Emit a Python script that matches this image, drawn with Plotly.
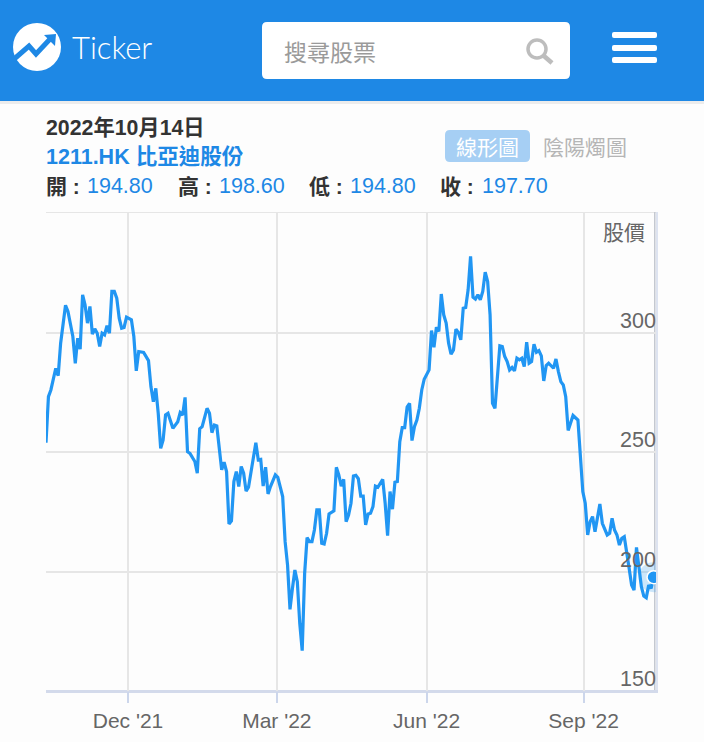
import plotly.graph_objects as go

W, H = 704, 742

# one entry per turning point, x is the trading day counted from 14 Oct 2021
trade_day = [0, 1, 2, 4, 5, 6, 8, 9, 11, 12, 13, 14, 15, 16, 17, 18, 19, 20, 21, 22, 23, 24, 25, 26, 27, 28, 29, 30,
             31, 32, 33, 35, 36, 37, 38, 40, 42, 43, 44, 45, 46, 47, 48, 49, 50, 52, 54, 55, 56, 57, 58, 59, 61, 62,
             63, 64, 66, 67, 68, 69, 70, 72, 73, 74, 75, 76, 77, 78, 79, 80, 81, 82, 83, 86, 87, 88, 89, 90, 91, 92,
             94, 95, 97, 98, 99, 100, 101, 102, 103, 104, 105, 106, 107, 108, 109, 110, 111, 112, 113, 114, 115, 116,
             118, 119, 120, 121, 122, 123, 124, 125, 126, 127, 128, 129, 130, 131, 132, 133, 134, 135, 136, 138, 139,
             140, 141, 142, 143, 144, 145, 146, 147, 148, 149, 150, 151, 152, 153, 154, 155, 157, 158, 159, 160, 161,
             162, 163, 164, 165, 166, 167, 168, 169, 170, 171, 172, 173, 174, 175, 176, 177, 178, 179, 180, 181, 182,
             183, 184, 185, 186, 187, 188, 189, 190, 191, 192, 193, 194, 195, 196, 197, 198, 199, 200, 201, 202, 203,
             204, 205, 206, 208, 209, 210, 211, 212, 213, 214, 215, 216, 218, 219, 220, 221, 222, 223, 224, 225, 227,
             228, 229, 230, 231, 232, 233, 234, 235, 236, 237, 238, 239, 240, 241, 242, 243, 244, 245, 246, 247, 248,
             249]
close = [254.1, 273.4, 276.2, 285.3, 282.2, 295.8, 311.7, 309.1, 298.6, 287.4, 297.9, 293.3, 316.1, 311.9, 304.2,
         311.2, 299.6, 301.8, 300.0, 294.4, 300.0, 299.3, 303.1, 300.0, 317.5, 317.5, 314.7, 306.3, 302.1, 302.4,
         306.7, 305.6, 298.6, 284.2, 292.3, 291.9, 288.5, 277.6, 271.3, 276.9, 266.4, 251.7, 255.2, 265.7, 266.4,
         260.1, 262.9, 266.7, 265.7, 273.1, 250.3, 249.6, 246.2, 241.3, 259.9, 260.8, 268.5, 266.4, 258.3, 261.5,
         261.1, 242.7, 245.9, 242.0, 220.0, 221.3, 237.8, 242.0, 235.7, 244.1, 241.3, 233.8, 235.4, 254.1, 246.9,
         247.1, 235.9, 243.8, 232.6, 235.7, 240.6, 239.6, 231.5, 212.6, 202.8, 184.2, 193.0, 200.7, 195.8, 178.3,
         166.9, 199.3, 214.3, 212.6, 212.6, 217.5, 225.9, 225.9, 211.9, 211.6, 216.1, 224.2, 225.5, 243.8, 240.6,
         235.9, 238.7, 221.0, 223.8, 228.7, 240.1, 240.4, 239.0, 231.7, 231.7, 219.6, 224.2, 224.5, 227.3, 235.9,
         235.4, 238.7, 228.7, 215.1, 233.6, 226.2, 237.5, 237.8, 254.5, 260.4, 260.4, 269.0, 270.6, 255.0, 260.8,
         263.6, 268.5, 276.2, 280.7, 284.6, 301.1, 294.1, 302.5, 300.7, 316.4, 307.7, 304.2, 295.8, 291.2, 293.0,
         301.7, 300.3, 297.2, 310.5, 310.8, 318.2, 332.2, 315.1, 314.3, 316.1, 314.0, 317.5, 325.6, 321.7, 307.7,
         270.6, 268.5, 282.5, 294.7, 294.4, 290.2, 288.1, 284.6, 285.6, 284.2, 289.5, 288.8, 289.5, 286.0, 296.2,
         287.4, 288.1, 295.4, 292.0, 292.7, 290.5, 280.0, 286.4, 287.4, 285.3, 289.2, 283.9, 279.7, 278.3, 273.4,
         259.2, 262.9, 265.5, 263.6, 248.3, 233.6, 228.7, 215.4, 221.0, 223.1, 216.8, 228.4, 220.3, 217.5, 215.4,
         216.1, 222.4, 217.5, 215.4, 211.2, 214.0, 214.7, 207.0, 201.4, 194.4, 192.3, 210.2, 202.8, 193.7, 189.8,
         189.1, 194.4, 193.0, 197.7]

x_tickvals = [33.6, 94.6, 156, 220.3]
x_ticktext = ["Dec '21", "Mar '22", "Jun '22", "Sep '22"]
y_tickvals = [150, 200, 250, 300]

BLUE = "#1e88e5"
LINE = "#2196f3"
TEXT_FONT = "Liberation Sans, Noto Sans CJK TC, sans-serif"
CJK_FONT = "Noto Sans CJK TC, sans-serif"


# page pixels -> paper fractions, the page chrome is placed by pixel
def px(x):
    return x / W


def py(y):
    return 1 - y / H


def rect(x0, y0, x1, y1, color):
    return dict(type="rect", xref="paper", yref="paper", x0=px(x0), x1=px(x1), y0=py(y0), y1=py(y1),
                fillcolor=color, line_width=0, layer="below")


def rounded(x0, y0, x1, y1, r, color):
    path = (f"M {px(x0 + r)} {py(y0)} L {px(x1 - r)} {py(y0)} Q {px(x1)} {py(y0)} {px(x1)} {py(y0 + r)} "
            f"L {px(x1)} {py(y1 - r)} Q {px(x1)} {py(y1)} {px(x1 - r)} {py(y1)} "
            f"L {px(x0 + r)} {py(y1)} Q {px(x0)} {py(y1)} {px(x0)} {py(y1 - r)} "
            f"L {px(x0)} {py(y0 + r)} Q {px(x0)} {py(y0)} {px(x0 + r)} {py(y0)} Z")
    return dict(type="path", xref="paper", yref="paper", path=path, fillcolor=color, line_width=0, layer="below")


def poly(points, color, width=0, fill=None):
    path = "M " + " L ".join(f"{px(a)} {py(b)}" for a, b in points)
    if fill:
        path += " Z"
    return dict(type="path", xref="paper", yref="paper", path=path, fillcolor=fill,
                line=dict(color=color, width=width), layer="above")


def label(x, y, text, size, color, anchor="left", font=TEXT_FONT, bold=False, weight=None):
    if bold:
        text = f"<b>{text}</b>"
    f = dict(family=font, size=size, color=color)
    if weight:
        f["weight"] = weight
    # annotations carry a little padding, take it back on left aligned text
    return dict(xref="paper", yref="paper", x=px(x), y=py(y), text=text, showarrow=False, xanchor=anchor,
                yanchor="middle", font=f, xshift=-2 if anchor == "left" else 0, yshift=0)


fig = go.Figure()

# halo + dot on the last close
fig.add_trace(go.Scatter(x=trade_day, y=close, mode="lines", line=dict(color=LINE, width=3.2), hoverinfo="skip"))
fig.add_trace(go.Scatter(x=trade_day[-1:], y=close[-1:], mode="markers",
                         marker=dict(size=30, color="rgba(33,150,243,0.22)"), hoverinfo="skip"))
fig.add_trace(go.Scatter(x=trade_day[-1:], y=close[-1:], mode="markers",
                         marker=dict(size=13, color=LINE, line=dict(color="white", width=1.5)), hoverinfo="skip"))

shapes = [
    rect(0, 0, 704, 101, BLUE),
    rect(0, 101, 704, 104, "#ececec"),
    rounded(262, 22, 570, 79, 5, "white"),
    rounded(612, 32, 657, 38, 2, "white"),
    rounded(612, 45, 657, 51, 2, "white"),
    rounded(612, 57, 657, 63, 2, "white"),
    rounded(445, 130, 530, 162, 5, "#a6cff4"),
    # logo
    dict(type="circle", xref="paper", yref="paper", x0=px(13), x1=px(61), y0=py(23), y1=py(71),
         fillcolor="white", line_width=0, layer="above"),
    poly([(13, 60), (29, 46), (36, 54), (51, 38)], BLUE, 5),
    poly([(44, 35), (56, 34), (55, 46)], BLUE, 0, BLUE),
    # search icon
    dict(type="circle", xref="paper", yref="paper", x0=px(528), x1=px(546), y0=py(40), y1=py(58),
         fillcolor="rgba(0,0,0,0)", line=dict(color="#bdbdbd", width=3.5), layer="above"),
    poly([(544, 56), (552, 63)], "#bdbdbd", 4.5),
    # plot frame
    rect(46, 212, 656, 213, "#e6e6e6"),
    rect(654, 212, 655.5, 691, "#c4c8d0"),
    rect(656, 212, 658, 692, "#dde3f0"),
    rect(46, 690, 658, 693, "#d3daeb"),
]

annotations = [
    label(72, 47, "Ticker", 31, "white", font="Lato, sans-serif", weight=300),
    label(284, 51, "搜尋股票", 23, "#9a9a9a", font=CJK_FONT),
    label(46, 128, "2022年10月14日", 21.3, "#333333", bold=True),
    label(46, 157, "1211.HK 比亞迪股份", 21.5, BLUE, bold=True),
    label(46, 186, "開 :", 21, "#333333", bold=True),
    label(87, 186, "194.80", 21.5, BLUE),
    label(178, 186, "高 :", 21, "#333333", bold=True),
    label(219, 186, "198.60", 21.5, BLUE),
    label(309, 186, "低 :", 21, "#333333", bold=True),
    label(350, 186, "194.80", 21.5, BLUE),
    label(440, 186, "收 :", 21, "#333333", bold=True),
    label(482, 186, "197.70", 21.5, BLUE),
    label(487.5, 146, "線形圖", 21, "white", anchor="center", font=CJK_FONT),
    label(585, 146, "陰陽燭圖", 21, "#b5b5b5", anchor="center", font=CJK_FONT),
    label(647, 231, "股價", 21, "#666666", anchor="right", font=CJK_FONT),
]
# y labels sit just above their grid line, inside the plot
for v in y_tickvals:
    annotations.append(dict(xref="paper", yref="y", x=px(658), y=v, text=str(v), showarrow=False, xanchor="right",
                            yanchor="middle", yshift=12, font=dict(family=TEXT_FONT, size=21.5, color="#666666")))

fig.update_layout(
    width=W, height=H, margin=dict(l=0, r=0, t=0, b=0), paper_bgcolor="#fdfdfd", plot_bgcolor="rgba(0,0,0,0)",
    showlegend=False, shapes=shapes, annotations=annotations,
    xaxis=dict(domain=[px(46), px(656)], range=[0, 250], tickvals=x_tickvals, ticktext=x_ticktext,
               showgrid=True, gridcolor="#e6e6e6", gridwidth=2, zeroline=False, showline=False,
               ticks="outside", ticklen=11, tickwidth=1.5, tickcolor="#ccd6eb",
               tickfont=dict(family=TEXT_FONT, size=21, color="#666666")),
    yaxis=dict(domain=[py(691), py(212)], range=[150, 350.8], tickvals=y_tickvals, showticklabels=False,
               showgrid=True, gridcolor="#e6e6e6", gridwidth=2, zeroline=False, showline=False, ticks=""),
)

# drop the browser's default body margin so the figure fills the window
fig.write_html("out.html", config=dict(displayModeBar=False),
               post_script="document.body.style.margin='0';document.body.style.overflow='hidden';")
